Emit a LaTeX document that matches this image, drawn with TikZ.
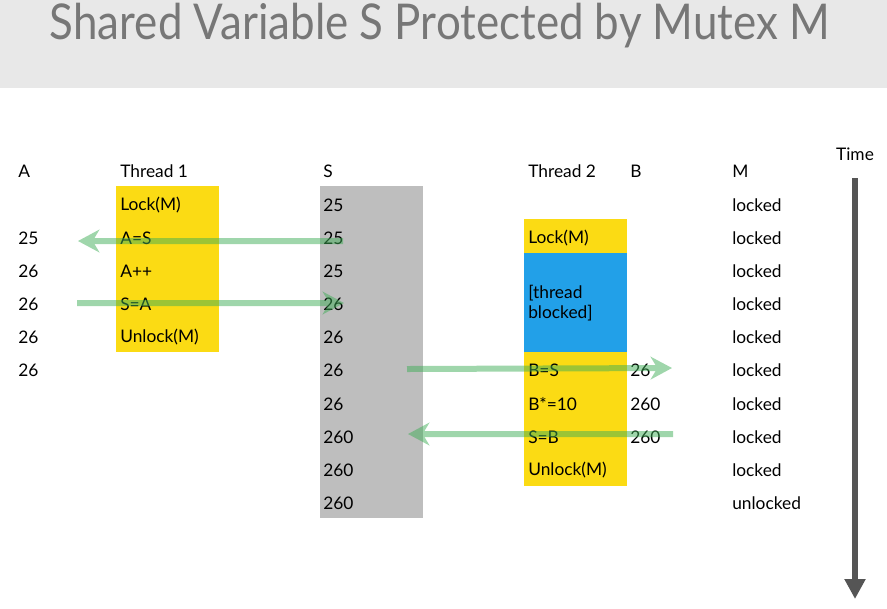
\documentclass[tikz,border=0pt]{standalone}
\usepackage{fontspec}
\setmainfont{Lato}
\usetikzlibrary{arrows.meta}
\definecolor{bandgrey}{HTML}{E8E8E8}
\definecolor{titlegrey}{HTML}{777777}
\definecolor{tyellow}{HTML}{FBDB14}
\definecolor{tblue}{HTML}{22A0E8}
\definecolor{sgrey}{HTML}{BEBEBE}
\definecolor{flowgreen}{HTML}{3FAE57}
\definecolor{timegrey}{HTML}{555555}
\begin{document}
\begin{tikzpicture}[x=0.75pt,y=-0.75pt,
  txt/.style={anchor=west,inner sep=0pt,font=\fontsize{13}{15}\selectfont,text=black},
  flow/.style={draw=flowgreen,line width=4.5pt,-{Stealth[length=16pt,width=17pt,inset=5pt]}},
  fgroup/.style={transparency group,opacity=0.5}]
\useasboundingbox (0,0) rectangle (887,608);
\fill[bandgrey] (0,0) rectangle (887,88);
\node[anchor=center,inner sep=0pt,text=titlegrey,xscale=0.89,font=\fontsize{37}{42}\selectfont] (title) at (440,26) {Shared Variable S Protected by Mutex M};
% boxes
\fill[tyellow] (116,186) rectangle (219,352);
\fill[sgrey] (320,186) rectangle (423,518);
\fill[tyellow] (524,219) rectangle (627,486);
\fill[tblue] (524,253) rectangle (627,352);
% headers
\node[txt] (hA) at (18,171) {A};
\node[txt] (hT1) at (120,171) {Thread 1};
\node[txt] (hS) at (323,171) {S};
\node[txt] (hT2) at (528,171) {Thread 2};
\node[txt] (hB) at (630,171) {B};
\node[txt] (hM) at (732,171) {M};
\node[anchor=center,inner sep=0pt,font=\fontsize{13}{15}\selectfont] (time) at (855,154) {Time};
% column A
\node[txt] (a2) at (18,238) {25};
\node[txt] (a3) at (18,271) {26};
\node[txt] (a4) at (18,304) {26};
\node[txt] (a5) at (18,337) {26};
\node[txt] (a6) at (18,370) {26};
% thread 1
\node[txt] (t11) at (120,205) {Lock(M)};
\node[txt] (t12) at (120,238) {A=S};
\node[txt] (t13) at (120,271) {A++};
\node[txt] (t14) at (120,304) {S=A};
\node[txt] (t15) at (120,337) {Unlock(M)};
% S
\node[txt] (s1) at (323,205) {25};
\node[txt] (s2) at (323,238) {25};
\node[txt] (s3) at (323,271) {25};
\node[txt] (s4) at (323,304) {26};
\node[txt] (s5) at (323,337) {26};
\node[txt] (s6) at (323,370) {26};
\node[txt] (s7) at (323,404) {26};
\node[txt] (s8) at (323,437) {260};
\node[txt] (s9) at (323,470) {260};
\node[txt] (s10) at (323,503) {260};
% thread 2
\node[txt] (t22) at (528,238) {Lock(M)};
\node[txt,align=left] (t2b) at (528,303) {[thread\\blocked]};
\node[txt] (t26) at (528,370) {B=S};
\node[txt] (t27) at (528,404) {B*=10};
\node[txt] (t28) at (528,437) {S=B};
\node[txt] (t29) at (528,470) {Unlock(M)};
% B
\node[txt] (b6) at (630,370) {26};
\node[txt] (b7) at (630,404) {260};
\node[txt] (b8) at (630,437) {260};
% M
\node[txt] (m1) at (732,205) {locked};
\node[txt] (m2) at (732,238) {locked};
\node[txt] (m3) at (732,271) {locked};
\node[txt] (m4) at (732,304) {locked};
\node[txt] (m5) at (732,337) {locked};
\node[txt] (m6) at (732,370) {locked};
\node[txt] (m7) at (732,404) {locked};
\node[txt] (m8) at (732,437) {locked};
\node[txt] (m9) at (732,470) {locked};
\node[txt] (m10) at (732,503) {unlocked};
% time arrow
\coordinate (tTop) at (855,178);
\coordinate (tBot) at (855,599);
\draw[timegrey,line width=3.8pt,-{Triangle[length=15pt,width=15pt]}] (tTop) -- (tBot);
% flow arrows
\coordinate (f1s) at (343,241);
\coordinate (f1e) at (78,241);
\coordinate (f2s) at (77,303);
\coordinate (f2e) at (344,303);
\coordinate (f3s) at (407,369);
\coordinate (f3e) at (672,368);
\coordinate (f4s) at (673,434);
\coordinate (f4e) at (408,434);
\begin{scope}[fgroup]\draw[flow] (f1s) -- (f1e);\end{scope}
\begin{scope}[fgroup]\draw[flow] (f2s) -- (f2e);\end{scope}
\begin{scope}[fgroup]\draw[flow] (f3s) -- (f3e);\end{scope}
\begin{scope}[fgroup]\draw[flow] (f4s) -- (f4e);\end{scope}
\end{tikzpicture}
\end{document}
